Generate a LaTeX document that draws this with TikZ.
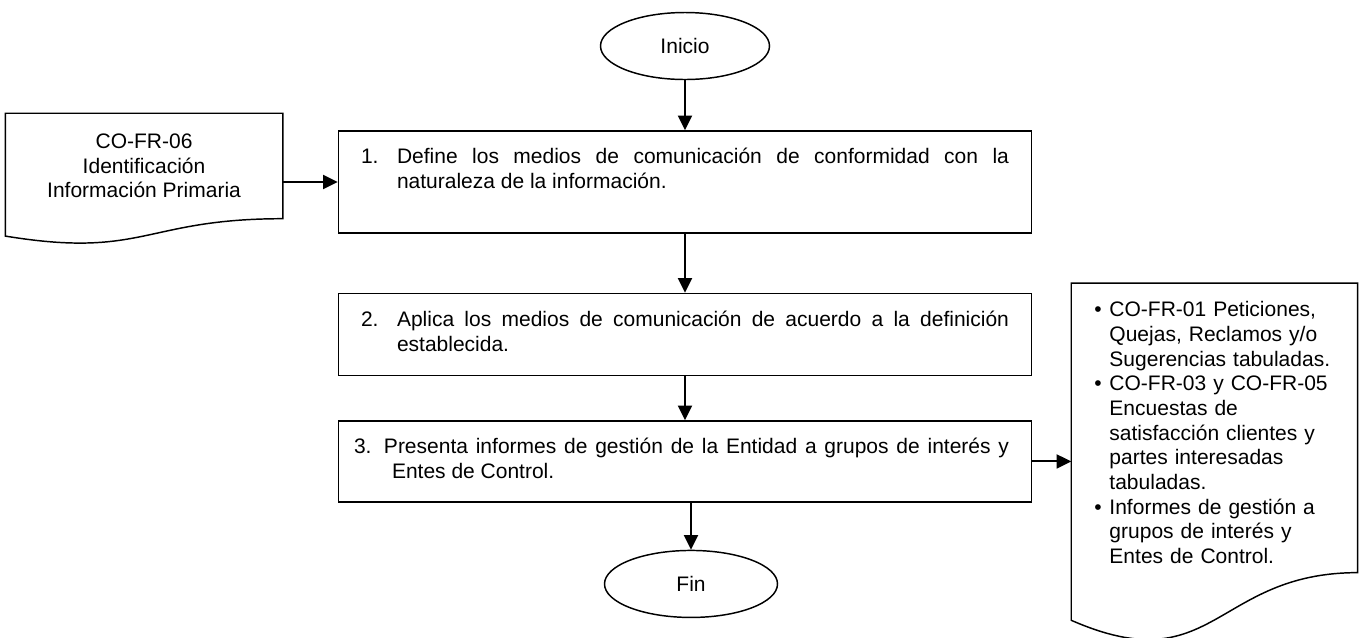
\documentclass[tikz,border=0pt]{standalone}
\usepackage{fontspec}
\setmainfont{Liberation Sans}
\usepackage{tikz}
\usetikzlibrary{arrows.meta, positioning, shapes.geometric, calc}

% numbered step: height, hang indent, label width, label, text
\newcommand{\steptext}[5]{\parbox[t][#1][t]{486pt}{\hangindent=#2\hangafter=1\noindent\strut\makebox[#3][l]{#4}#5\par}}
% bullet entry in a document shape
\newcommand{\docitem}{\par\hangindent=11.25pt\hangafter=1\noindent\makebox[11.25pt][l]{\textbullet}}
% wavy document outline round a node
\newcommand{\docoutline}[1]{%
  \draw (#1.north west) -- (#1.north east) -- (#1.south east)
    .. controls (#1.south) and ($(#1.north)!1.381!(#1.south)$)
    .. ($(#1.north west)!1.1646!(#1.south west)$) -- cycle;}

\begin{document}
\begin{tikzpicture}[x=0.75pt, y=-0.75pt, line width=1.1pt,
    every node/.style={font=\fontsize{15.75pt}{18.5pt}\selectfont},
    terminal/.style={draw, ellipse, inner sep=0pt, minimum height=50.25pt},
    stepbox/.style={draw, rectangle, inner xsep=16.875pt, inner ysep=11.8pt},
    docbox/.style={rectangle, inner sep=0pt},
    flow/.style={-{Triangle[length=11pt, width=10.5pt]}, line width=1.5pt}]
  \useasboundingbox (0,0) rectangle (1362,637);

  % terminals and steps
  \node (inicio) [terminal, minimum width=126.75pt] at (685,46) {Inicio};

  \node (paso1) [stepbox, below=37.5pt of inicio]
  {\steptext{52.9pt}{27pt}{27pt}{1.}{Define los medios de comunicación de conformidad con la\linebreak naturaleza de la información.}};

  \node (paso2) [stepbox, below=44.25pt of paso1]
  {\steptext{37.9pt}{27pt}{27pt}{2.}{Aplica los medios de comunicación de acuerdo a la definición\linebreak establecida.}};

  \node (paso3) [stepbox, below=33pt of paso2]
  {\steptext{37.2pt}{23.25pt}{17.25pt}{\hspace{-5.25pt}3.}{Presenta informes de gestión de la Entidad a grupos de interés y\linebreak Entes de Control.}};

  \node (fin) [terminal, minimum width=129.75pt, below=35.25pt of paso3, xshift=4.5pt] {Fin};

  % documents
  \node (fuente) [docbox, minimum width=207pt, minimum height=78pt, align=center,
    left=41.25pt of paso1.north west, anchor=north east, yshift=12.75pt]
  {CO-FR-06\\Identificación\\Información Primaria};
  \docoutline{fuente}

  \node (registro) [docbox, minimum width=213.75pt, minimum height=216pt, text width=180pt, align=left,
    right=29.25pt of paso3.north east, anchor=north west, yshift=102.75pt]
  {\docitem CO-FR-01 Peticiones,\newline Quejas, Reclamos y/o\newline Sugerencias tabuladas.
   \docitem CO-FR-03 y CO-FR-05\newline Encuestas de\newline satisfacción clientes y\newline partes interesadas\newline tabuladas.
   \docitem Informes de gestión a\newline grupos de interés y\newline Entes de Control.\par};
  \docoutline{registro}

  % arrows
  \draw[flow] (inicio) -- (paso1);
  \draw[flow] (paso1) -- (paso2);
  \draw[flow] (paso2) -- (paso3);
  \draw[flow] (paso3.south -| fin.north) -- (fin.north);
  \draw[flow] (fuente.east |- paso1.west) -- (paso1.west);
  \draw[flow] (paso3.east) -- (registro.west |- paso3.east);
\end{tikzpicture}
\end{document}
